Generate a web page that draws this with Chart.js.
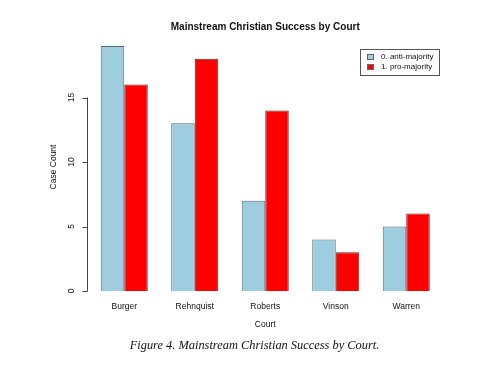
<!DOCTYPE html>
<html>
<head>
<meta charset="utf-8">
<script src="https://cdn.jsdelivr.net/npm/chart.js@4.4.0/dist/chart.umd.min.js"></script>
<style>
  html, body { margin: 0; padding: 0; background: #fff; }
  #wrap { position: relative; width: 490px; height: 366px; }
  #cap {
    position: absolute; left: 0; width: 509px; top: 338px;
    text-align: center; font-family: 'Liberation Serif', serif; font-style: italic;
    font-size: 12.4px; color: #111;
  }
</style>
</head>
<body>
<div id="wrap">
  <canvas id="c" width="490" height="366"></canvas>
  <div id="cap">Figure 4. Mainstream Christian Success by Court.</div>
</div>
<script>
// ── DATA ──────────────────────────────────────────────────────
const courts       = ['Burger', 'Rehnquist', 'Roberts', 'Vinson', 'Warren'];
const antiMajority = [19, 13, 7, 4, 5];
const proMajority  = [16, 18, 14, 3, 6];
const yTicks       = [0, 5, 10, 15];

const FONT = "'Liberation Sans', Arial, sans-serif";

// R-style title, y axis (line only 0..15) and boxed legend
const rStyle = {
  id: 'rStyle',
  afterDraw(chart) {
    const { ctx, chartArea, scales } = chart;
    const y = scales.y;
    ctx.save();
    ctx.fillStyle = '#111';

    // title centred on plot region
    ctx.font = 'bold 10px ' + FONT;
    ctx.textAlign = 'center';
    ctx.textBaseline = 'middle';
    ctx.fillText('Mainstream Christian Success by Court', (chartArea.left + chartArea.right) / 2, 27);

    // y axis line + ticks + rotated labels
    const ax = 87.5;
    ctx.strokeStyle = '#444';
    ctx.lineWidth = 1;
    ctx.beginPath();
    ctx.moveTo(ax, y.getPixelForValue(yTicks[0]));
    ctx.lineTo(ax, y.getPixelForValue(yTicks[yTicks.length - 1]));
    yTicks.forEach(v => {
      const py = Math.round(y.getPixelForValue(v)) + 0.5;
      ctx.moveTo(ax, py);
      ctx.lineTo(ax - 5, py);
    });
    ctx.stroke();
    ctx.font = '8.5px ' + FONT;
    yTicks.forEach(v => {
      ctx.save();
      ctx.translate(72, y.getPixelForValue(v));
      ctx.rotate(-Math.PI / 2);
      ctx.fillText(String(v), 0, 0);
      ctx.restore();
    });
    ctx.save();
    ctx.translate(54, 167);
    ctx.rotate(-Math.PI / 2);
    ctx.fillText('Case Count', 0, 0);
    ctx.restore();

    // legend box
    const lx = 360, ly = 49, lw = 79, lh = 26;
    ctx.strokeStyle = '#555';
    ctx.strokeRect(lx + 0.5, ly + 0.5, lw, lh);
    ctx.textAlign = 'left';
    ctx.font = '8px ' + FONT;
    chart.data.datasets.forEach((ds, i) => {
      const cy = ly + 8 + i * 10;
      ctx.fillStyle = ds.backgroundColor;
      ctx.fillRect(lx + 7, cy - 3, 7, 6);
      ctx.strokeStyle = '#666';
      ctx.strokeRect(lx + 7.5, cy - 2.5, 6, 5);
      ctx.fillStyle = '#111';
      ctx.fillText(ds.label, lx + 21, cy);
    });
    ctx.restore();
  }
};

new Chart(document.getElementById('c'), {
  type: 'bar',
  data: {
    labels: courts,
    datasets: [
      { label: '0. anti-majority', data: antiMajority, backgroundColor: '#9ecde0', borderColor: '#5a6a72', borderWidth: 1 },
      { label: '1. pro-majority',  data: proMajority,  backgroundColor: '#ff0000', borderColor: '#6a2a2a', borderWidth: 1 }
    ]
  },
  options: {
    responsive: false,
    animation: false,
    events: [],
    layout: { padding: { left: 0, right: 48.5, top: 33, bottom: 36.6 } },
    datasets: { bar: { categoryPercentage: 0.667, barPercentage: 1 } },
    plugins: { legend: { display: false }, tooltip: { enabled: false } },
    scales: {
      x: {
        grid: { display: false, drawTicks: false },
        border: { display: false },
        ticks: { color: '#111', font: { family: FONT, size: 8.5 }, padding: 10.5, maxRotation: 0 },
        title: { display: true, text: 'Court', color: '#111', font: { family: FONT, size: 8.5 }, padding: 0 },
        afterFit: s => { s.height = 38.4; }
      },
      y: {
        min: 0, max: 20,
        grid: { display: false },
        border: { display: false },
        ticks: { display: false },
        afterFit: s => { s.width = 89; }
      }
    }
  },
  plugins: [rStyle]
});
</script>
</body>
</html>
